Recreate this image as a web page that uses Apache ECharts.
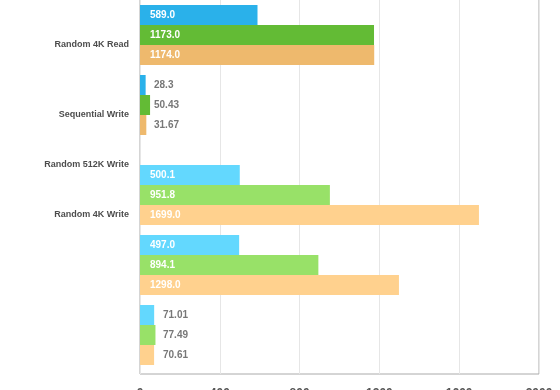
<!DOCTYPE html>
<html>
<head>
<meta charset="utf-8">
<script src="https://cdn.jsdelivr.net/npm/echarts@6/dist/echarts.min.js"></script>
<style>
html,body{margin:0;padding:0;background:#fff;}
#chart{width:560px;height:390px;}
</style>
</head>
<body>
<div id="chart"></div>
<script>
// ---- data ----
const yTickLabels = ['Random 4K Read', 'Sequential Write', 'Random 512K Write', 'Random 4K Write'];
const xTickLabels = [0, 400, 800, 1200, 1600, 2000];
const blueValues   = [589.0, 28.3, 500.1, 497.0, 71.01];
const greenValues  = [1173.0, 50.43, 951.8, 894.1, 77.49];
const orangeValues = [1174.0, 31.67, 1699.0, 1298.0, 70.61];

// ---- layout (rows of 10px on the category axis) ----
const ROWS = 37;
const groupFirstRow = [1, 8, 17, 24, 31];
const labelRows = [4, 11, 16, 21];
const groupPalette = [0, 0, 1, 1, 1];
const palettes = [
  ['#2ab1ea', '#63bb35', '#eeb96d'],
  ['#63d8fe', '#98e168', '#ffd18e']
];
const smallLabelOffset = [14, 14, 14, 14, 23];
const FONT = "'Liberation Sans', Arial, Helvetica, sans-serif";

const rowCats = new Array(ROWS).fill('');
labelRows.forEach((r, i) => { rowCats[r] = yTickLabels[i]; });

function fmt(v) { return Number.isInteger(v) ? v.toFixed(1) : String(v); }

function buildSeries(values, colorIdx) {
  const data = new Array(ROWS).fill('-');
  values.forEach((v, g) => {
    const row = groupFirstRow[g] + 2 * colorIdx;
    const small = v < 100;
    data[row] = {
      value: v,
      itemStyle: { color: palettes[groupPalette[g]][colorIdx] },
      label: small
        ? { position: [smallLabelOffset[g], 10], align: 'left', verticalAlign: 'middle', color: '#777' }
        : { position: 'insideLeft', distance: 10, color: '#fff' }
    };
  });
  return {
    type: 'bar',
    xAxisIndex: 0,
    yAxisIndex: 0,
    barWidth: 20,
    barGap: '-100%',
    data: data,
    animation: false,
    label: {
      show: true,
      fontSize: 10,
      fontWeight: 'bold',
      fontFamily: FONT,
      formatter: p => fmt(p.value)
    }
  };
}

const xMin = xTickLabels[0];
const xMax = xTickLabels[xTickLabels.length - 1];
const xInterval = xTickLabels[1] - xTickLabels[0];

const chart = echarts.init(document.getElementById('chart'), null, { renderer: 'canvas' });
chart.setOption({
  animation: false,
  backgroundColor: '#fff',
  grid: [
    { left: 140, width: 399, top: 0, height: 370, containLabel: false, outerBoundsMode: 'none' },
    { left: 140, width: 399, top: -20, bottom: 16, show: true, borderColor: '#aaa', borderWidth: 1,
      backgroundColor: 'transparent', containLabel: false, outerBoundsMode: 'none' }
  ],
  xAxis: [
    { gridIndex: 0, type: 'value', min: xMin, max: xMax, interval: xInterval, show: false },
    {
      gridIndex: 1, type: 'value', min: xMin, max: xMax, interval: xInterval,
      axisLine: { show: false }, axisTick: { show: false },
      splitLine: { show: true, lineStyle: { color: '#e6e6e6' } },
      axisLabel: { margin: 14, fontSize: 12, fontWeight: 'bold', color: '#555', fontFamily: FONT,
        formatter: v => String(v) }
    }
  ],
  yAxis: [
    {
      gridIndex: 0, type: 'category', data: rowCats, inverse: true,
      axisLine: { show: false }, axisTick: { show: false }, splitLine: { show: false },
      axisLabel: { interval: 0, margin: 11, fontSize: 9, fontWeight: 'bold', color: '#4d4d4d', fontFamily: FONT }
    },
    { gridIndex: 1, type: 'value', show: false }
  ],
  series: [
    buildSeries(blueValues, 0),
    buildSeries(greenValues, 1),
    buildSeries(orangeValues, 2)
  ]
});
</script>
</body>
</html>
